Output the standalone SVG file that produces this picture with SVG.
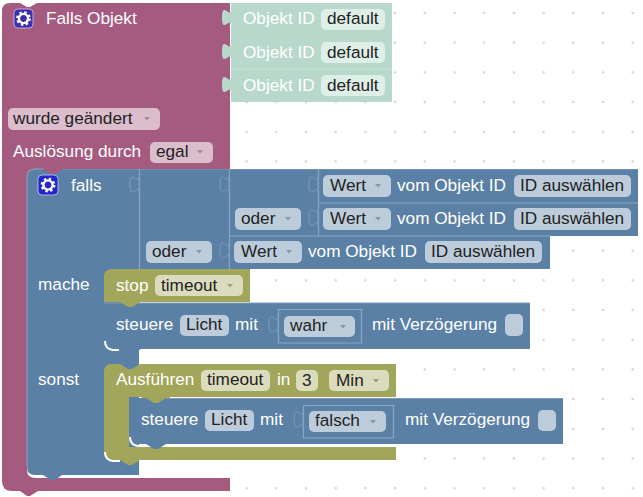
<svg xmlns="http://www.w3.org/2000/svg" width="643" height="497" viewBox="0 0 643 497">
<style>
text{font-family:"Liberation Sans",Arial,sans-serif;font-size:17.2px}
.w{fill:#fff}
.k{fill:#222}
.pf{fill:#dbbdcc}.bf{fill:#bdccdb}.of{fill:#dbdbbd}.gf{fill:#deefe8}
.sep{fill:none;stroke:#8aa6c1;stroke-width:1.2}
.hl{fill:none;stroke:#fff;stroke-width:2}
.tabl{fill:#5b80a5;stroke:#7f9dbb;stroke-width:1}
.arr{fill:#555;opacity:.45}
</style>
<defs>
<pattern id="dots" width="29.7" height="29.7" patternUnits="userSpaceOnUse" patternTransform="translate(9 13)">
<circle cx="0" cy="0" r="1.3" fill="#d4d4d4"/><circle cx="29.7" cy="0" r="1.3" fill="#d4d4d4"/><circle cx="0" cy="29.7" r="1.3" fill="#d4d4d4"/><circle cx="29.7" cy="29.7" r="1.3" fill="#d4d4d4"/>
</pattern>
<path id="tab" d="M0,0 c0,11 -9,-9 -9,8.5 s9,-2.5 9,8.5 z"/>
<path id="tri" d="M0,0 h6 l-3,3.5 z"/>
<g id="gear"><circle cx="0" cy="0" r="4.6" fill="none" stroke="#fff" stroke-width="2.4"/><circle cx="0" cy="0" r="6.3" fill="none" stroke="#fff" stroke-width="2.2" stroke-dasharray="2.4 2.55"/></g>
</defs>
<rect width="643" height="497" fill="#fff"/>
<rect width="643" height="497" fill="url(#dots)"/>

<g id="block-falls-objekt">
<path fill="#a55b80" d="M2,11 q0,-8 8,-8 H20 l7,4 3,0 7,-4 H230 V169 H65 V177 H41 V169 H35 q-8,0 -8,8 V470 q0,8 9,8 H230 V491 H38 l-8,5 -3,0 -7,-5 H12 q-10,0 -10,-10 Z"/>
<rect x="14" y="9" width="19" height="19" rx="4" fill="#3c2cb4" stroke="#d8c4e0" stroke-width=".8"/>
<use href="#gear" x="23.5" y="18.5"/>
<text class="w" x="46" y="24">Falls Objekt</text>
<rect class="pf" x="8" y="108" width="152" height="22" rx="5"/>
<text class="k" x="13" y="124">wurde geändert</text>
<use href="#tri" class="arr" x="144" y="117"/>
<text class="w" x="13" y="157">Auslösung durch</text>
<rect class="pf" x="150" y="142" width="63" height="21" rx="5"/>
<text class="k" x="156" y="157">egal</text>
<use href="#tri" class="arr" x="197" y="150"/>
</g>

<g id="block-objekt-ids">
<rect x="231" y="3" width="161" height="99" fill="#b9d8cc"/>
<path d="M231,69 H392" stroke="#c8e0d6" stroke-width="1" fill="none"/>
<text class="w" x="243" y="24">Objekt ID</text>
<rect class="gf" x="321" y="9" width="64" height="21" rx="5"/><text class="k" x="327" y="24">default</text>
<text class="w" x="243" y="58">Objekt ID</text>
<rect class="gf" x="321" y="42" width="64" height="21" rx="5"/><text class="k" x="327" y="58">default</text>
<text class="w" x="243" y="91">Objekt ID</text>
<rect class="gf" x="321" y="75" width="64" height="21" rx="5"/><text class="k" x="327" y="91">default</text>
</g>

<g id="block-falls">
<path fill="#5b80a5" d="M27,177 q0,-8 8,-8 H43 l8,5 4,0 8,-5 H638 V236 H550 V269 H139 V475 H62 l-7,5 -4,0 -8,-5 H35 q-8,0 -8,-8 Z"/>
<path d="M43,169 H35 q-8,0 -8,8 V467" fill="none" stroke="#8aa6c1" stroke-width="1"/>
<path d="M63,169.5 H638" fill="none" stroke="#6f92b4" stroke-width="1"/>
<path class="sep" d="M139.5,169 V269 M229.5,169 V269 M229.5,236 H550 M318.5,169 V236 M318.5,203 H638"/>
<rect x="38" y="175" width="20" height="20" rx="4" fill="#2525cc" stroke="#c4d0e0" stroke-width=".8"/>
<use href="#gear" x="48" y="185"/>
<text class="w" x="71" y="191">falls</text>
<text class="w" x="38" y="290">mache</text>
<text class="w" x="38" y="385">sonst</text>
<rect class="bf" x="146" y="241" width="66" height="22" rx="5"/><text class="k" x="152" y="257">oder</text><use href="#tri" class="arr" x="196" y="250"/>
<rect class="bf" x="235" y="208" width="66" height="22" rx="5"/><text class="k" x="241" y="224">oder</text><use href="#tri" class="arr" x="285" y="217"/>
<rect class="bf" x="323" y="175" width="68" height="22" rx="5"/><text class="k" x="330" y="191">Wert</text><use href="#tri" class="arr" x="375" y="184"/>
<text class="w" x="397" y="191">vom Objekt ID</text>
<rect class="bf" x="514" y="175" width="117" height="22" rx="5"/><text class="k" x="520" y="191">ID auswählen</text>
<rect class="bf" x="323" y="208" width="68" height="22" rx="5"/><text class="k" x="330" y="224">Wert</text><use href="#tri" class="arr" x="375" y="217"/>
<text class="w" x="397" y="224">vom Objekt ID</text>
<rect class="bf" x="514" y="208" width="117" height="22" rx="5"/><text class="k" x="520" y="224">ID auswählen</text>
<rect class="bf" x="234" y="241" width="68" height="22" rx="5"/><text class="k" x="241" y="257">Wert</text><use href="#tri" class="arr" x="286" y="250"/>
<text class="w" x="308" y="257">vom Objekt ID</text>
<rect class="bf" x="425" y="241" width="117" height="22" rx="5"/><text class="k" x="431" y="257">ID auswählen</text>
</g>

<g id="block-steuere-wahr">
<path fill="#5b80a5" d="M104,303 H530 V349 H141 l-8,5 -3,0 -8,-5 H112 q-8,0 -8,-8 Z"/>
<path class="hl" d="M105,341 q0,8 8,9 H119"/>
<path d="M104,303 H530" fill="none" stroke="#7f9dbb" stroke-width="1"/>
<text class="w" x="116" y="330">steuere</text>
<rect class="bf" x="180" y="315" width="49" height="21" rx="5"/><text class="k" x="186" y="330">Licht</text>
<text class="w" x="235" y="330">mit</text>
<path class="sep" d="M278.5,309.5 H361.5 V343 H278.5 Z"/>
<rect class="bf" x="284" y="316" width="71" height="21" rx="5"/><text class="k" x="290" y="331">wahr</text><use href="#tri" class="arr" x="340" y="325"/>
<text class="w" x="372" y="330">mit Verzögerung</text>
<rect class="bf" x="505" y="314" width="18" height="22" rx="5"/>
</g>

<g id="block-stop">
<path fill="#a1a65b" d="M104,277 q0,-8 8,-8 H250 V302 H140 l-8,5 -4,0 -8,-5 H104 Z"/>
<text class="w" x="116" y="291">stop</text>
<rect class="of" x="155" y="275" width="88" height="21" rx="5"/><text class="k" x="161" y="291">timeout</text><use href="#tri" class="arr" x="227" y="284"/>
</g>

<g id="block-ausfuehren">
<path fill="#a1a65b" d="M104,372 q0,-8 8,-8 H120 l8,5 4,0 8,-5 H396 V397 H170 V405 H142 V397 H129 V447 H396 V460 H140 l-8,5 -4,0 -8,-5 H112 q-8,0 -8,-8 Z"/>
<path class="hl" d="M105,452 q0,8 8,9 H120"/>
<text class="w" x="116" y="385">Ausführen</text>
<rect class="of" x="201" y="370" width="69" height="21" rx="5"/><text class="k" x="207" y="385">timeout</text>
<text class="w" x="277" y="385">in</text>
<rect class="of" x="296" y="370" width="22" height="21" rx="5"/><text class="k" x="302" y="386">3</text>
<rect class="of" x="329" y="370" width="60" height="21" rx="5"/><text class="k" x="336" y="386">Min</text><use href="#tri" class="arr" x="373" y="379"/>
</g>

<g id="block-steuere-falsch">
<path fill="#5b80a5" d="M129,406 q0,-8 8,-8 H146 l8,5 4,0 8,-5 H563 V444 H166 l-8,5 -4,0 -8,-5 H137 q-8,0 -8,-8 Z"/>
<path class="hl" d="M130,437 q0,8 8,9 H146"/>
<path d="M166,398.5 H563" fill="none" stroke="#7f9dbb" stroke-width="1"/>
<text class="w" x="141" y="425">steuere</text>
<rect class="bf" x="205" y="410" width="49" height="21" rx="5"/><text class="k" x="211" y="425">Licht</text>
<text class="w" x="260" y="425">mit</text>
<path class="sep" d="M303.5,405.5 H393.5 V438 H303.5 Z"/>
<rect class="bf" x="309" y="411" width="77" height="21" rx="5"/><text class="k" x="315" y="426">falsch</text><use href="#tri" class="arr" x="370" y="420"/>
<text class="w" x="405" y="425">mit Verzögerung</text>
<rect class="bf" x="538" y="410" width="18" height="21" rx="5"/>
</g>

<g id="connectors">
<use href="#tab" fill="#b9d8cc" x="231" y="9"/>
<use href="#tab" fill="#b9d8cc" x="231" y="43"/>
<use href="#tab" fill="#b9d8cc" x="231" y="76"/>
<use href="#tab" class="tabl" x="139" y="176"/>
<use href="#tab" class="tabl" x="229" y="176"/>
<use href="#tab" class="tabl" x="318" y="176"/>
<use href="#tab" class="tabl" x="318" y="209"/>
<use href="#tab" class="tabl" x="229" y="242"/>
<use href="#tab" class="tabl" x="278" y="316"/>
<use href="#tab" class="tabl" x="303" y="411"/>
</g>
</svg>
